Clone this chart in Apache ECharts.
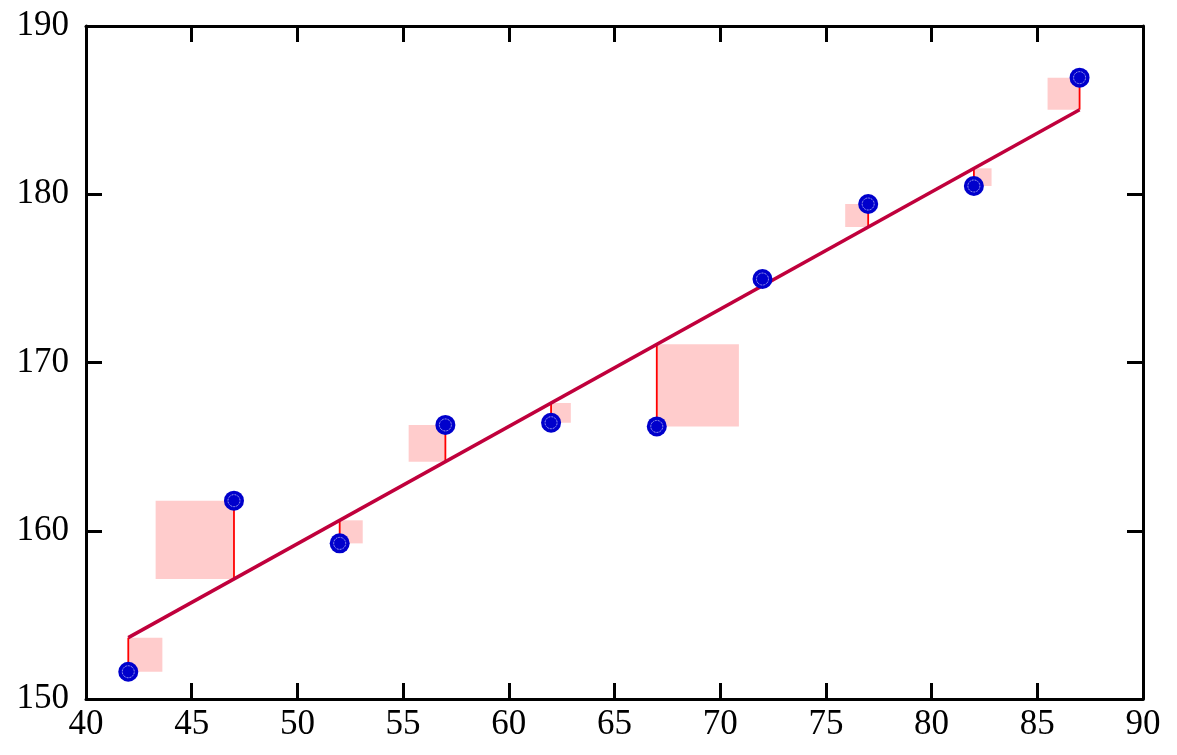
<!DOCTYPE html>
<html>
<head>
<meta charset="utf-8">
<script src="https://cdn.jsdelivr.net/npm/echarts@6/dist/echarts.min.js"></script>
<style>html,body{margin:0;padding:0;background:#fff;}#c{width:1177px;height:755px;}</style>
</head>
<body>
<div id="c"></div>
<script>
const xValues = [42, 47, 52, 57, 62, 67, 72, 77, 82, 87];
const yValues = [151.62, 161.79, 159.25, 166.29, 166.42, 166.2, 174.96, 179.42, 180.49, 186.93];
const xTicks = [40, 45, 50, 55, 60, 65, 70, 75, 80, 85, 90];
const yTicks = [150, 160, 170, 180, 190];

// least-squares fit of the data
const n = xValues.length;
const mx = xValues.reduce((a, b) => a + b, 0) / n;
const my = yValues.reduce((a, b) => a + b, 0) / n;
let sxy = 0, sxx = 0;
for (let i = 0; i < n; i++) { sxy += (xValues[i] - mx) * (yValues[i] - my); sxx += (xValues[i] - mx) ** 2; }
const slope = sxy / sxx;
const intercept = my - slope * mx;
const fit = x => intercept + slope * x;

const points = xValues.map((x, i) => [x, yValues[i]]);
const resid = xValues.map((x, i) => [x, yValues[i], fit(x)]);
const fitLine = [[xValues[0], fit(xValues[0])], [xValues[n - 1], fit(xValues[n - 1])]];

const font = 'Liberation Serif';
const axisCommon = {
  type: 'value', min: 40, max: 90, interval: 5,
  axisLine: { show: true, lineStyle: { color: '#000', width: 3 } },
  axisTick: { show: true, inside: true, length: 16, lineStyle: { color: '#000', width: 3 } },
  splitLine: { show: false }
};
const chart = echarts.init(document.getElementById('c'));
chart.setOption({
  animation: false,
  backgroundColor: '#fff',
  grid: { left: 86, right: 34, top: 26, bottom: 56 },
  xAxis: [
    Object.assign({}, axisCommon, { position: 'bottom',
      axisLabel: { color: '#000', fontFamily: font, fontSize: 35, margin: 8, formatter: v => xTicks.includes(v) ? String(v) : '' } }),
    Object.assign({}, axisCommon, { position: 'top', axisLabel: { show: false } })
  ],
  yAxis: [
    Object.assign({}, axisCommon, { min: 150, max: 190, interval: 10, position: 'left',
      axisLabel: { color: '#000', fontFamily: font, fontSize: 35, margin: 17, formatter: v => yTicks.includes(v) ? String(v) : '' } }),
    Object.assign({}, axisCommon, { min: 150, max: 190, interval: 10, position: 'right', axisLabel: { show: false } })
  ],
  series: [
    {
      type: 'custom', data: resid, z: 1, silent: true,
      renderItem: (params, api) => {
        const x = api.value(0), y = api.value(1), f = api.value(2);
        const p = api.coord([x, y]), q = api.coord([x, f]);
        const side = Math.abs(p[1] - q[1]);
        const left = y > f ? p[0] - side : p[0];
        return { type: 'rect', shape: { x: left, y: Math.min(p[1], q[1]), width: side, height: side },
          style: { fill: '#ffcccc' } };
      }
    },
    {
      type: 'custom', data: resid, z: 2, silent: true,
      renderItem: (params, api) => {
        const x = api.value(0);
        const p = api.coord([x, api.value(1)]), q = api.coord([x, api.value(2)]);
        return { type: 'line', shape: { x1: p[0], y1: p[1], x2: q[0], y2: q[1] },
          style: { stroke: '#ff0000', lineWidth: 1.8 } };
      }
    },
    {
      type: 'line', data: fitLine, z: 3, symbol: 'none',
      lineStyle: { color: '#c0003c', width: 3.5 }
    },
    {
      type: 'scatter', data: points, z: 4, symbol: 'circle', symbolSize: 20,
      itemStyle: { color: '#0000cc', opacity: 1, borderWidth: 0 }
    },
    {
      type: 'scatter', data: points, z: 5, symbol: 'circle', symbolSize: 12,
      itemStyle: { color: 'rgba(0,0,0,0)', opacity: 1, borderColor: '#ffffff', borderWidth: 0.8, borderType: 'dotted' }
    }
  ]
});
</script>
</body>
</html>
